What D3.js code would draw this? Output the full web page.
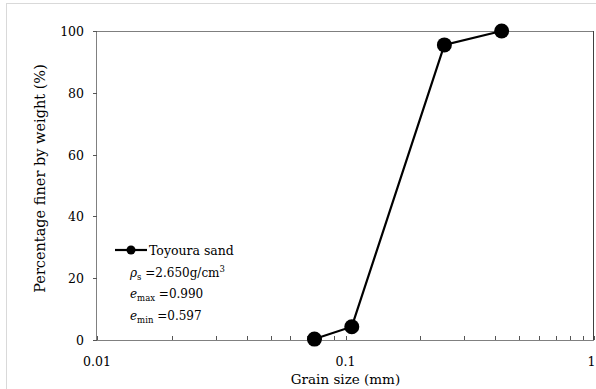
<!DOCTYPE html>
<html>
<head>
<meta charset="utf-8">
<script src="https://cdn.jsdelivr.net/npm/d3@7"></script>
<style>
  html, body { margin: 0; padding: 0; background: #fff; }
</style>
</head>
<body>
<div id="chart"></div>
<script>
// Data
const grainSize = [0.075, 0.106, 0.25, 0.425];     // mm
const percentFiner = [0.3, 4.3, 95.5, 100];        // %
const xTickValues = [0.01, 0.1, 1];
const xTickLabels = ['0.01', '0.1', '1'];
const yTickValues = [0, 20, 40, 60, 80, 100];
const legendName = 'Toyoura sand';

const FONT = 'DejaVu Serif';
const W = 596, H = 389;
const margin = { top: 31, right: 2, bottom: 49, left: 97 };
const width = W - margin.left - margin.right;
const height = H - margin.top - margin.bottom;

const svg = d3.select('#chart')
    .append('svg')
    .attr('width', W)
    .attr('height', H);

// Outer figure frame
svg.append('rect')
    .attr('x', 6.5).attr('y', 3.5)
    .attr('width', W + 10).attr('height', H + 10)
    .attr('fill', 'none')
    .attr('stroke', '#d9d9d9');

const g = svg.append('g')
    .attr('transform', `translate(${margin.left},${margin.top})`);

const x = d3.scaleLog().domain([0.01, 1]).range([0, width]);
const y = d3.scaleLinear().domain([0, 100]).range([height, 0]);

// Plot frame top & right
g.append('line')
    .attr('x1', 0).attr('x2', width).attr('y1', 0.5).attr('y2', 0.5)
    .attr('stroke', '#7f7f7f');
g.append('line')
    .attr('x1', width - 0.5).attr('x2', width - 0.5).attr('y1', 0).attr('y2', height)
    .attr('stroke', '#404040');

// Minor ticks along x (inside)
const minorTicks = [];
[0.01, 0.1].forEach(dec => {
    for (let k = 1; k <= 9; k++) minorTicks.push(dec * k);
});
minorTicks.push(1);

const xAxis = g.append('g')
    .attr('transform', `translate(0,${height})`);
xAxis.selectAll('.mt')
    .data(minorTicks)
    .enter().append('line')
    .attr('x1', d => Math.round(x(d)) + 0.5)
    .attr('x2', d => Math.round(x(d)) + 0.5)
    .attr('y1', 0).attr('y2', -4)
    .attr('stroke', '#555');
xAxis.append('line')
    .attr('x1', 0).attr('x2', width).attr('y1', 0.5).attr('y2', 0.5)
    .attr('stroke', '#808080');
xAxis.selectAll('.xl')
    .data(xTickValues)
    .enter().append('text')
    .style('font-family', FONT)
    .attr('x', d => d === 1 ? W - margin.left - 0.5 : x(d))
    .attr('y', 26)
    .attr('text-anchor', d => d === 1 ? 'end' : 'middle')
    .attr('font-size', 12.5)
    .text((d, i) => xTickLabels[i]);

// Y axis
const yAxis = g.append('g');
yAxis.append('line')
    .attr('x1', -0.5).attr('x2', -0.5).attr('y1', 0).attr('y2', height)
    .attr('stroke', '#808080');
yAxis.selectAll('.yt')
    .data(yTickValues)
    .enter().append('line')
    .attr('x1', -4).attr('x2', 0)
    .attr('y1', d => Math.round(y(d)) + 0.5)
    .attr('y2', d => Math.round(y(d)) + 0.5)
    .attr('stroke', '#555');
yAxis.selectAll('.yl')
    .data(yTickValues)
    .enter().append('text')
    .style('font-family', FONT)
    .attr('x', -13)
    .attr('y', d => y(d) + 5)
    .attr('text-anchor', 'end')
    .attr('font-size', 12.5)
    .text(d => d);

// Axis labels
g.append('text')
    .style('font-family', FONT)
    .attr('x', x(0.1))
    .attr('y', height + 44)
    .attr('text-anchor', 'middle')
    .attr('font-size', 13.5)
    .text('Grain size (mm)');
g.append('text')
    .style('font-family', FONT)
    .attr('transform', `translate(${-52},${height / 2 - 7}) rotate(-90)`)
    .attr('text-anchor', 'middle')
    .attr('font-size', 14.5)
    .text('Percentage finer by weight (%)');

// Data line and markers
const pts = grainSize.map((d, i) => [d, percentFiner[i]]);
g.append('path')
    .datum(pts)
    .attr('fill', 'none')
    .attr('stroke', '#000')
    .attr('stroke-width', 2.2)
    .attr('d', d3.line().x(d => x(d[0])).y(d => y(d[1])));
g.selectAll('.pt')
    .data(pts)
    .enter().append('circle')
    .attr('cx', d => x(d[0]))
    .attr('cy', d => y(d[1]))
    .attr('r', 7.5)
    .attr('fill', '#000');

// Legend
const lg = svg.append('g').attr('transform', 'translate(115,250)');
lg.append('line')
    .attr('x1', 0).attr('x2', 32).attr('y1', 0).attr('y2', 0)
    .attr('stroke', '#000').attr('stroke-width', 2.2);
lg.append('circle').attr('cx', 16).attr('cy', 0).attr('r', 4.5).attr('fill', '#000');
lg.append('text')
    .style('font-family', FONT)
    .attr('x', 34).attr('y', 4.5)
    .attr('font-size', 12.5)
    .text(legendName);

const t1 = lg.append('text').style('font-family', FONT).attr('x', 15).attr('y', 27).attr('font-size', 12);
t1.append('tspan').attr('font-style', 'italic').text('ρ');
t1.append('tspan').attr('font-size', 8.5).attr('dy', 3).text('s');
t1.append('tspan').attr('dy', -3).text(' =2.650g/cm');
t1.append('tspan').attr('font-size', 8.5).attr('dy', -5).text('3');

const t2 = lg.append('text').style('font-family', FONT).attr('x', 15).attr('y', 48).attr('font-size', 12);
t2.append('tspan').attr('font-style', 'italic').text('e');
t2.append('tspan').attr('font-size', 8.5).attr('dy', 3).text('max');
t2.append('tspan').attr('dy', -3).text(' =0.990');

const t3 = lg.append('text').style('font-family', FONT).attr('x', 15).attr('y', 70).attr('font-size', 12);
t3.append('tspan').attr('font-style', 'italic').text('e');
t3.append('tspan').attr('font-size', 8.5).attr('dy', 3).text('min');
t3.append('tspan').attr('dy', -3).text(' =0.597');
</script>
</body>
</html>
